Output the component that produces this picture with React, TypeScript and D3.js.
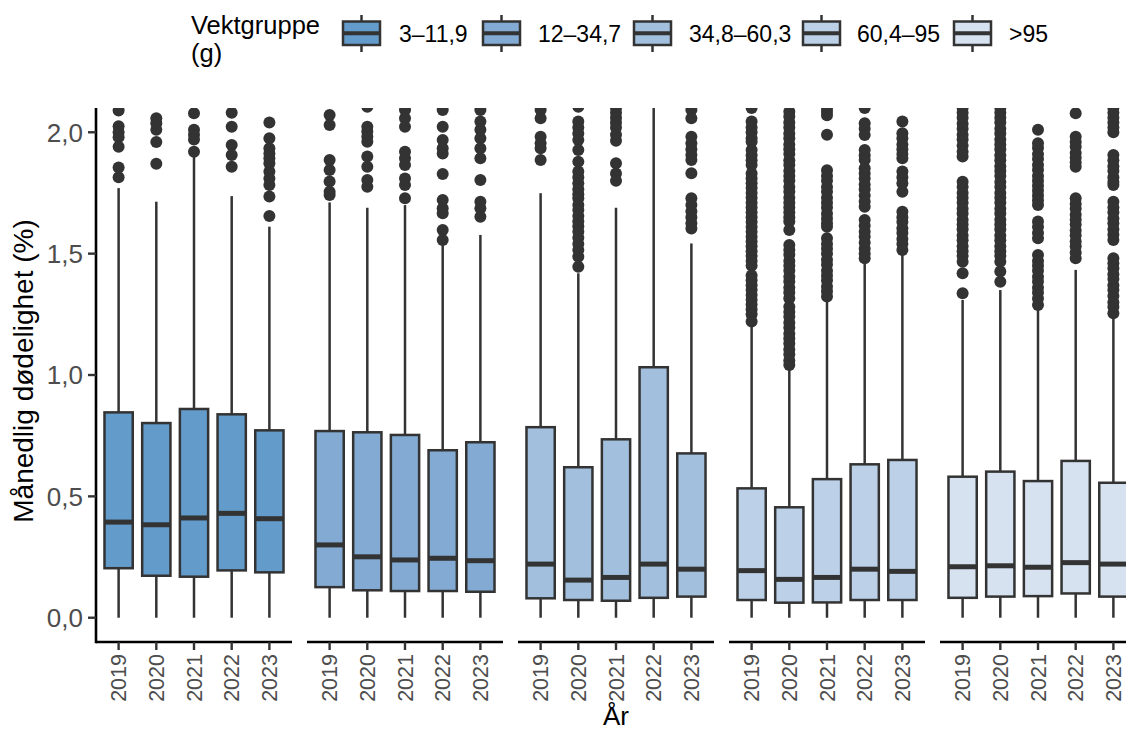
import * as d3 from 'd3';

const years = ['2019', '2020', '2021', '2022', '2023'];
const groups = ['3–11,9', '12–34,7', '34,8–60,3', '60,4–95', '>95'];
const fills = ['#639bca', '#82aad3', '#a2c0de', '#bcd1e8', '#d6e2f0'];
const yTicks = [0, 0.5, 1, 1.5, 2];

// rows = weight group, columns = year
const q1 = [
  [0.204, 0.173, 0.169, 0.195, 0.187],
  [0.126, 0.113, 0.11, 0.11, 0.107],
  [0.08, 0.073, 0.07, 0.082, 0.087],
  [0.073, 0.062, 0.063, 0.073, 0.073],
  [0.082, 0.087, 0.089, 0.1, 0.087],
];
const medians = [
  [0.394, 0.383, 0.411, 0.43, 0.408],
  [0.3, 0.251, 0.238, 0.245, 0.235],
  [0.221, 0.155, 0.166, 0.221, 0.2],
  [0.194, 0.158, 0.166, 0.2, 0.191],
  [0.21, 0.214, 0.208, 0.227, 0.221],
];
const q3 = [
  [0.846, 0.802, 0.86, 0.838, 0.772],
  [0.769, 0.764, 0.753, 0.69, 0.723],
  [0.785, 0.62, 0.735, 1.032, 0.677],
  [0.533, 0.455, 0.571, 0.632, 0.65],
  [0.581, 0.602, 0.563, 0.646, 0.556],
];
const whiskerLow = [
  [0, 0, 0, 0, 0],
  [0, 0, 0, 0, 0],
  [0, 0, 0, 0, 0],
  [0, 0, 0, 0, 0],
  [0, 0, 0, 0, 0],
];
const whiskerHigh = [
  [1.77, 1.714, 1.9, 1.737, 1.611],
  [1.711, 1.689, 1.7, 1.536, 1.577],
  [1.749, 1.419, 1.689, 2.4, 1.542],
  [1.206, 1.034, 1.313, 1.46, 1.502],
  [1.309, 1.35, 1.268, 1.433, 1.234],
];
const outliers: number[][][] = [
  [
    [2.09, 2.025, 2.0, 1.98, 1.94, 1.855, 1.815],
    [2.058, 2.037, 2.01, 1.96, 1.87],
    [2.078, 2.01, 1.99, 1.97, 1.92],
    [2.08, 2.023, 1.948, 1.906, 1.858],
    [2.04, 1.975, 1.934, 1.913, 1.893, 1.872, 1.838, 1.81, 1.783, 1.735, 1.655],
  ],
  [
    [2.071, 2.03, 1.886, 1.845, 1.797, 1.755, 1.742],
    [2.105, 2.023, 2.003, 1.982, 1.961, 1.9, 1.858, 1.803, 1.776],
    [2.092, 2.058, 2.023, 1.92, 1.893, 1.865, 1.81, 1.783, 1.728],
    [2.092, 2.023, 1.968, 1.934, 1.913, 1.828, 1.721, 1.687, 1.666, 1.597, 1.556],
    [2.092, 2.044, 2.01, 1.975, 1.934, 1.893, 1.803, 1.714, 1.687, 1.652],
  ],
  [
    [2.092, 2.058, 1.982, 1.955, 1.934, 1.886],
    [2.105, 2.044, 2.02, 1.995, 1.968, 1.927, 1.879, 1.838, 1.815, 1.79, 1.765, 1.745, 1.728, 1.7, 1.68,
      1.655, 1.633, 1.613, 1.59, 1.565, 1.54, 1.515, 1.487, 1.446],
    [2.1, 2.08, 2.06, 2.04, 2.02, 1.99, 1.965, 1.872, 1.83, 1.8],
    [],
    [2.092, 2.058, 1.982, 1.955, 1.93, 1.906, 1.886, 1.831, 1.728, 1.7, 1.675, 1.65, 1.625, 1.604],
  ],
  [
    [2.1, 2.044, 2.02, 2.0, 1.975, 1.961, 1.927, 1.905, 1.885, 1.865, 1.83, 1.81, 1.79, 1.77, 1.75, 1.73,
      1.71, 1.69, 1.67, 1.65, 1.63, 1.61, 1.59, 1.57, 1.55, 1.53, 1.51, 1.49, 1.47, 1.45, 1.41, 1.39,
      1.37, 1.35, 1.33, 1.31, 1.29, 1.27, 1.25, 1.22],
    [2.085, 2.065, 2.04, 2.02, 1.995, 1.975, 1.95, 1.93, 1.91, 1.885, 1.865, 1.84, 1.82, 1.8, 1.775,
      1.755, 1.73, 1.71, 1.69, 1.67, 1.65, 1.632, 1.597, 1.536, 1.515, 1.495, 1.47, 1.45, 1.43, 1.405,
      1.385, 1.36, 1.34, 1.316, 1.281, 1.26, 1.24, 1.215, 1.195, 1.17, 1.15, 1.13, 1.105, 1.085, 1.06, 1.041],
    [2.1, 2.085, 2.07, 1.99, 1.844, 1.82, 1.8, 1.775, 1.755, 1.73, 1.71, 1.69, 1.665, 1.645, 1.625, 1.611,
      1.563, 1.54, 1.52, 1.5, 1.475, 1.455, 1.43, 1.41, 1.39, 1.365, 1.345, 1.323],
    [2.1, 2.037, 2.015, 1.989, 1.927, 1.905, 1.886, 1.852, 1.83, 1.81, 1.785, 1.765, 1.74, 1.715, 1.693,
      1.639, 1.615, 1.59, 1.57, 1.545, 1.52, 1.5, 1.481],
    [2.044, 1.996, 1.975, 1.95, 1.93, 1.91, 1.893, 1.838, 1.815, 1.79, 1.755, 1.673, 1.65, 1.63, 1.605,
      1.585, 1.56, 1.54, 1.515],
  ],
  [
    [2.1, 2.08, 2.06, 2.035, 2.015, 1.99, 1.97, 1.945, 1.92, 1.9, 1.796, 1.775, 1.75, 1.73, 1.71, 1.685,
      1.665, 1.64, 1.62, 1.6, 1.575, 1.555, 1.53, 1.51, 1.49, 1.467, 1.419, 1.337],
    [2.1, 2.08, 2.06, 2.04, 2.015, 1.995, 1.97, 1.95, 1.93, 1.905, 1.885, 1.86, 1.84, 1.82, 1.795, 1.775,
      1.75, 1.73, 1.71, 1.685, 1.665, 1.64, 1.62, 1.6, 1.575, 1.555, 1.53, 1.51, 1.49, 1.467, 1.426, 1.384],
    [2.01, 1.955, 1.935, 1.91, 1.89, 1.865, 1.845, 1.82, 1.8, 1.78, 1.76, 1.74, 1.72, 1.7, 1.632, 1.61,
      1.585, 1.563, 1.494, 1.47, 1.45, 1.43, 1.405, 1.385, 1.36, 1.34, 1.315, 1.288],
    [2.078, 1.982, 1.96, 1.94, 1.915, 1.895, 1.875, 1.858, 1.728, 1.705, 1.685, 1.66, 1.64, 1.62, 1.595,
      1.575, 1.55, 1.53, 1.505, 1.481],
    [2.1, 2.08, 2.06, 2.04, 2.02, 2.0, 1.906, 1.885, 1.86, 1.84, 1.815, 1.795, 1.783, 1.714, 1.69, 1.67,
      1.645, 1.625, 1.6, 1.578, 1.556, 1.481, 1.46, 1.44, 1.415, 1.395, 1.37, 1.35, 1.325, 1.3, 1.28, 1.254],
  ],
];

const W = 1126;
const H = 730;
const font = '"Liberation Sans", Arial, Helvetica, sans-serif';
const ink = '#333333';
const panelLeft = 96;
const panelW = 196;
const panelGap = 15;
const plotTop = 108;
const plotBottom = 642;

// legend layout
const legendKeyX = [343, 483, 634, 803, 954];
const legendLabelX = [399, 538, 689, 857, 1009];

export default function App(): React.ReactNode {
  const y = d3.scaleLinear().domain([-0.1, 2.1]).range([plotBottom, plotTop]);
  const x = d3.scalePoint<string>().domain(years).range([0, panelW]).padding(0.6);
  const boxW = x.step() * 0.75;
  const fmt = (v: number) => d3.format('.1f')(v).replace('.', ',');

  return (
    <svg width={W} height={H} style={{ position: 'absolute', left: 0, top: 0, fontFamily: font }}>
      <rect width={W} height={H} fill="#fff" />
      <defs>
        <clipPath id="panel-clip">
          <rect x={0} y={plotTop} width={panelW} height={plotBottom - plotTop} />
        </clipPath>
      </defs>

      {/* legend */}
      <text x={191} y={34} fontSize={25.5} fill="#000">Vektgruppe</text>
      <text x={191} y={62} fontSize={25.5} fill="#000">(g)</text>
      {groups.map((g, i) => {
        const kx = legendKeyX[i];
        const cx = kx + 18.5;
        return (
          <g key={g}>
            <line x1={cx} x2={cx} y1={15} y2={52} stroke={ink} strokeWidth={2.5} />
            <rect x={kx} y={21.5} width={37} height={23.5} fill={fills[i]} stroke={ink} strokeWidth={2.5} />
            <line x1={kx} x2={kx + 37} y1={33.3} y2={33.3} stroke={ink} strokeWidth={4} />
            <text x={legendLabelX[i]} y={42} fontSize={23} fill="#000">{g}</text>
          </g>
        );
      })}

      {/* y axis */}
      <line x1={panelLeft} x2={panelLeft} y1={plotTop} y2={plotBottom + 1.2} stroke="#000" strokeWidth={2.6} />
      {yTicks.map((t) => (
        <g key={t} transform={`translate(0,${y(t)})`}>
          <line x1={panelLeft - 8} x2={panelLeft} stroke={ink} strokeWidth={2.4} />
          <text x={panelLeft - 13} dy="0.36em" textAnchor="end" fontSize={26} fill="#4d4d4d">
            {fmt(t)}
          </text>
        </g>
      ))}
      <text
        transform={`translate(33,${(plotTop + plotBottom) / 2 - 4}) rotate(-90)`}
        textAnchor="middle"
        fontSize={28}
        fill="#000"
      >
        Månedlig dødelighet (%)
      </text>

      {groups.map((g, gi) => {
        const px = panelLeft + gi * (panelW + panelGap);
        return (
          <g key={g} transform={`translate(${px},0)`}>
            <g clipPath="url(#panel-clip)">
              {years.map((yr, yi) => {
                const cx = x(yr) ?? 0;
                return (
                  <g key={yr}>
                    <line x1={cx} x2={cx} y1={y(whiskerHigh[gi][yi])} y2={y(q3[gi][yi])} stroke={ink} strokeWidth={2.5} />
                    <line x1={cx} x2={cx} y1={y(q1[gi][yi])} y2={y(whiskerLow[gi][yi])} stroke={ink} strokeWidth={2.5} />
                    <rect
                      x={cx - boxW / 2}
                      y={y(q3[gi][yi])}
                      width={boxW}
                      height={y(q1[gi][yi]) - y(q3[gi][yi])}
                      fill={fills[gi]}
                      stroke={ink}
                      strokeWidth={2.5}
                    />
                    <line
                      x1={cx - boxW / 2}
                      x2={cx + boxW / 2}
                      y1={y(medians[gi][yi])}
                      y2={y(medians[gi][yi])}
                      stroke={ink}
                      strokeWidth={5}
                    />
                    {outliers[gi][yi].map((v, k) => (
                      <circle key={k} cx={cx} cy={y(v)} r={6} fill={ink} />
                    ))}
                  </g>
                );
              })}
            </g>
            <line x1={0} x2={panelW} y1={plotBottom} y2={plotBottom} stroke="#000" strokeWidth={2.6} />
            {years.map((yr) => (
              <g key={yr} transform={`translate(${x(yr)},${plotBottom})`}>
                <line y1={0} y2={8} stroke={ink} strokeWidth={2.4} />
                <text
                  transform="translate(0,12) rotate(-90)"
                  textAnchor="end"
                  dy="0.36em"
                  fontSize={21.5}
                  fill="#4d4d4d"
                >
                  {yr}
                </text>
              </g>
            ))}
          </g>
        );
      })}

      <text x={panelLeft + (5 * panelW + 4 * panelGap) / 2} y={725} textAnchor="middle" fontSize={26} fill="#000">
        År
      </text>
    </svg>
  );
}
